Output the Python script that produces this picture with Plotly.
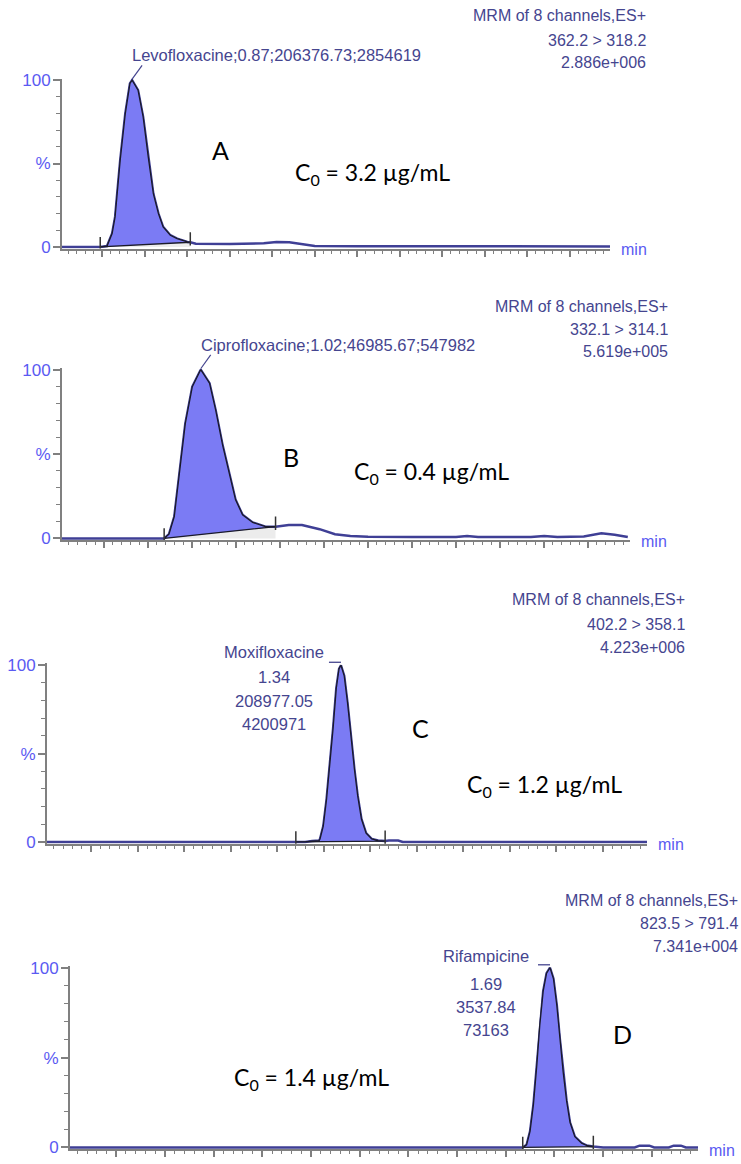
import plotly.graph_objects as go

W, H = 741, 1164

# ---------------- data ----------------
T_RANGE = [0.705, 1.995]          # retention time window (min)
Y_RANGE = [-1, 101]               # relative intensity (%)

A_time = [0.705, 0.795, 0.811, 0.823, 0.830, 0.842, 0.854, 0.865, 0.870, 0.884, 0.896, 0.908,
          0.920, 0.932, 0.943, 0.960, 0.976, 1.000, 1.007, 1.020, 1.100, 1.180, 1.210, 1.240,
          1.270, 1.300, 1.400, 1.600, 1.800, 1.995]
A_int = [0, 0, 0.5, 8, 18, 52, 80, 98, 100, 94, 78, 54,
         32, 20, 12, 7, 5, 3, 2.8, 1.9, 1.8, 2.2, 3, 2.8,
         1.5, 0.6, 0.4, 0.4, 0.3, 0.3]
A_window = [0.795, 1.007]

B_time = [0.705, 0.937, 0.948, 0.960, 0.971, 0.985, 1.001, 1.020, 1.040, 1.054, 1.070, 1.086,
          1.099, 1.115, 1.138, 1.167, 1.190, 1.220, 1.250, 1.290, 1.325, 1.360, 1.400, 1.500,
          1.600, 1.625, 1.650, 1.770, 1.800, 1.830, 1.890, 1.930, 1.960, 1.990]
B_int = [0, 0, 2.5, 13, 37, 68, 90, 100, 92, 76, 55, 37,
         23, 14, 9.5, 7, 7, 8, 8, 5.5, 2.5, 1.5, 1, 0.8,
         0.8, 1.5, 0.8, 0.8, 1.5, 0.8, 1.2, 3, 2.2, 0.8]
B_window = [0.937, 1.190]

C_time = [0.705, 1.240, 1.260, 1.275, 1.290, 1.292, 1.299, 1.306, 1.313, 1.320, 1.327, 1.333,
          1.337, 1.344, 1.351, 1.358, 1.366, 1.373, 1.381, 1.391, 1.403, 1.417, 1.432, 1.440,
          1.460, 1.470, 1.995]
C_int = [0, 0, 0, 0.5, 0.8, 1.7, 9, 24, 43, 64, 87, 98,
         100, 94, 79, 60, 41, 26, 13, 5, 1.7, 0.8, 0.5, 0.8,
         0.8, 0, 0]
C_window = [1.240, 1.432]

D_time = [0.705, 1.635, 1.643, 1.650, 1.657, 1.664, 1.670, 1.677, 1.684, 1.691, 1.698, 1.705,
          1.711, 1.718, 1.725, 1.732, 1.742, 1.756, 1.766, 1.780, 1.800, 1.865, 1.875, 1.895,
          1.905, 1.935, 1.945, 1.960, 1.970, 1.995]
D_int = [0, 0, 1.5, 9, 24, 46, 68, 87, 97, 100, 94, 79,
         61, 42, 26, 14, 6, 2.4, 1.1, 0.5, 0, 0, 1, 1,
         0, 0, 1, 1, 0, 0]
D_window = [1.635, 1.780]

compounds = ["Levofloxacine", "Ciprofloxacine", "Moxifloxacine", "Rifampicine"]
ret_times = ["0.87", "1.02", "1.34", "1.69"]
areas = ["206376.73", "46985.67", "208977.05", "3537.84"]
heights = ["2854619", "547982", "4200971", "73163"]
transitions = ["362.2 > 318.2", "332.1 > 314.1", "402.2 > 358.1", "823.5 > 791.4"]
max_counts = ["2.886e+006", "5.619e+005", "4.223e+006", "7.341e+004"]
concentrations = ["3.2", "0.4", "1.2", "1.4"]
letters = ["A", "B", "C", "D"]
y_tickvals = [0, 50, 100]
y_ticktext = ["0", "%", "100"]

series = [(A_time, A_int, A_window), (B_time, B_int, B_window),
          (C_time, C_int, C_window), (D_time, D_int, D_window)]

# ---------------- layout geometry (pixels) ----------------
# slight vertical correction for the capture
def Y(py):
    return (py - 6.7) / 0.9887


# x0, x1 of plot; pixel row of 0 % and of 100 %
boxes = [(62, 610, 247, 80), (62, 630, 539, 370), (47, 647, 843, 666), (70, 698, 1149, 969)]
letter_pos = [(210, 150), (281, 457), (410, 729), (611, 1035)]
conc_pos = [(293, 173), (352, 473), (465, 786), (232, 1080)]
mrm_right = [648, 670, 687, 740]
mrm_rows = [(15, 40, 62), (307, 330, 352), (600, 625, 648), (902, 925, 948)]

TXT = "#45458f"
TICKBLUE = "#5a5af2"
AXIS = "#808080"
FILL = "#7b7bf4"
TRACE = "#3f3f95"
FONT = "Liberation Sans"

fig = go.Figure()


def interp(ts, ys, t):
    for i in range(len(ts) - 1):
        if ts[i] <= t <= ts[i + 1]:
            if ts[i + 1] == ts[i]:
                return ys[i]
            f = (t - ts[i]) / (ts[i + 1] - ts[i])
            return ys[i] + f * (ys[i + 1] - ys[i])
    return ys[-1]


annotations = []
shapes = []
layout_axes = {}

for i, ((ts, ys, win), (x0, x1, y0p, y100p)) in enumerate(zip(series, boxes)):
    n = "" if i == 0 else str(i + 1)
    xa, ya = "x" + n, "y" + n
    y0p, y100p = Y(y0p), Y(y100p)
    u = (y0p - y100p) / 100.0
    bottom_px = y0p - Y_RANGE[0] * u
    top_px = y100p - (Y_RANGE[1] - 100) * u
    plot_w = x1 - x0
    plot_h = bottom_px - top_px

    layout_axes["xaxis" + n] = dict(
        domain=[x0 / W, x1 / W], range=T_RANGE, anchor=ya,
        showgrid=False, zeroline=False, showline=True, linecolor=AXIS, linewidth=2,
        ticks="outside", tick0=0.8, dtick=0.1, ticklen=6, tickwidth=1.5, tickcolor=AXIS,
        showticklabels=False,
        minor=dict(ticks="outside", tick0=0.8, dtick=0.02, ticklen=3, tickwidth=1, tickcolor=AXIS),
    )
    layout_axes["yaxis" + n] = dict(
        domain=[1 - bottom_px / H, 1 - top_px / H], range=Y_RANGE, anchor=xa,
        showgrid=False, zeroline=False, showline=True, linecolor=AXIS, linewidth=2,
        ticks="outside", tickvals=y_tickvals, ticktext=y_ticktext, ticklen=7, tickwidth=1.5,
        tickcolor=AXIS, tickfont=dict(family=FONT, size=17, color=TICKBLUE),
        ticklabelstandoff=-1,
        minor=dict(ticks="outside", tick0=0, dtick=10, ticklen=4, tickwidth=1, tickcolor=AXIS),
    )

    ts_, te_ = win
    ys_, ye_ = interp(ts, ys, ts_), interp(ts, ys, te_)
    pk_t = [t for t in ts if ts_ < t < te_]
    pk_y = [y for t, y in zip(ts, ys) if ts_ < t < te_]

    # light region under integration baseline
    fig.add_trace(go.Scatter(x=[ts_, te_, te_, ts_], y=[0, 0, ye_, ys_], fill="toself",
                             fillcolor="#ececec", line=dict(width=0), mode="lines",
                             xaxis=xa, yaxis=ya, hoverinfo="skip"))
    # chromatogram trace
    fig.add_trace(go.Scatter(x=ts, y=ys, mode="lines", line=dict(color=TRACE, width=2.5),
                             xaxis=xa, yaxis=ya, hoverinfo="skip"))
    # integrated peak
    fig.add_trace(go.Scatter(x=[ts_] + pk_t + [te_, ts_], y=[ys_] + pk_y + [ye_, ys_],
                             fill="toself", fillcolor=FILL, mode="lines",
                             line=dict(color="#1a1a2a", width=1.3),
                             xaxis=xa, yaxis=ya, hoverinfo="skip"))
    # integration limit markers
    fig.add_trace(go.Scatter(x=[ts_, ts_, None, te_, te_],
                             y=[ys_ - 1.5, ys_ + 6, None, ye_ - 2, ye_ + 6],
                             mode="lines", line=dict(color="#333333", width=1.5),
                             xaxis=xa, yaxis=ya, hoverinfo="skip"))

    # helpers in axis-domain coordinates
    pk_idx = ys.index(max(ys))
    apex_t = ts[pk_idx]
    fx = (apex_t - T_RANGE[0]) / (T_RANGE[1] - T_RANGE[0])
    fy = (100 - Y_RANGE[0]) / (Y_RANGE[1] - Y_RANGE[0])

    if i < 2:
        # slanted connector from apex to label
        shapes.append(dict(type="line", xref=xa + " domain", yref=ya + " domain",
                           x0=fx, y0=fy + 1 / plot_h, x1=fx + 10 / plot_w, y1=fy + 15 / plot_h,
                           line=dict(color=TXT, width=1.2)))
        annotations.append(dict(
            xref=xa, yref=ya, x=apex_t, y=100, xanchor="left", yanchor="middle",
            yshift=25, xshift=-2, showarrow=False,
            text=f"{compounds[i]};{ret_times[i]};{areas[i]};{heights[i]}",
            font=dict(family=FONT, size=16.5, color=TXT)))
    else:
        shapes.append(dict(type="line", xref=xa + " domain", yref=ya + " domain",
                           x0=fx - 12 / plot_w, y0=fy + 3 / plot_h, x1=fx, y1=fy + 3 / plot_h,
                           line=dict(color=TXT, width=1.3)))
        xoff = -67 if i == 2 else -64
        rows = [compounds[i], ret_times[i], areas[i], heights[i]]
        yoffs = [13, -12, -36, -59] if i == 2 else [12, -16, -39, -62]
        for r, yo in zip(rows, yoffs):
            annotations.append(dict(
                xref=xa, yref=ya, x=apex_t, y=100, xanchor="center", yanchor="middle",
                xshift=xoff, yshift=yo, showarrow=False, text=r,
                font=dict(family=FONT, size=16.5, color=TXT)))

    # "min" axis label
    annotations.append(dict(xref=xa + " domain", yref=ya, x=1, y=0, xanchor="left",
                            yanchor="middle", xshift=9, yshift=-3, showarrow=False, text="min",
                            font=dict(family=FONT, size=16, color=TICKBLUE)))

    # MRM header block
    for txt, py in zip(["MRM of 8 channels,ES+", transitions[i], max_counts[i]], mrm_rows[i]):
        annotations.append(dict(xref="paper", yref="paper", x=mrm_right[i] / W, y=1 - Y(py) / H,
                                xanchor="right", yanchor="middle", showarrow=False, text=txt,
                                font=dict(family=FONT, size=16, color=TXT)))

    # panel letter and concentration
    lx, ly = letter_pos[i]
    annotations.append(dict(xref="paper", yref="paper", x=lx / W, y=1 - Y(ly) / H,
                            xanchor="left", yanchor="middle", showarrow=False, text=letters[i],
                            font=dict(family="Lato", size=25, color="black")))
    cx, cy = conc_pos[i]
    annotations.append(dict(xref="paper", yref="paper", x=cx / W, y=1 - Y(cy) / H,
                            xanchor="left", yanchor="middle", showarrow=False,
                            text=f"C<sub>0</sub> = {concentrations[i]} µg/mL",
                            font=dict(family="Lato", size=23, color="black")))

fig.update_layout(
    width=W, height=H, margin=dict(l=0, r=0, t=0, b=0),
    paper_bgcolor="white", plot_bgcolor="white", showlegend=False,
    annotations=annotations, shapes=shapes, **layout_axes,
)

fig.write_html("out.html",
               config={"displayModeBar": False},
               post_script="document.body.style.margin='0';"
                           "document.body.style.padding='0';"
                           "document.documentElement.style.overflow='hidden';")
